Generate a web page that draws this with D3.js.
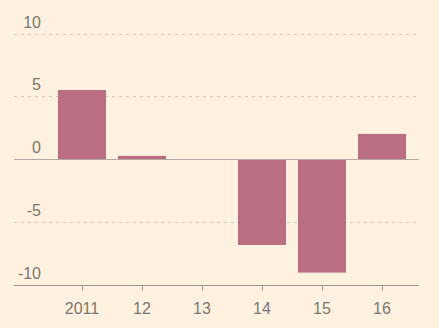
<!DOCTYPE html>
<html>
<head>
<meta charset="utf-8">
<script src="https://cdn.jsdelivr.net/npm/d3@7"></script>
<style>
  body { margin: 0; background: #fff1e0; }
  svg { display: block; }
  text { font-family: "Liberation Sans", Arial, sans-serif; fill: #7d7570; }
</style>
</head>
<body>
<div id="chart"></div>
<script>
var years = ['2011', '12', '13', '14', '15', '16'];
var values = [5.5, 0.25, -0.05, -6.85, -9.05, 2.0];
var yTicks = [-10, -5, 0, 5, 10];

var width = 439, height = 328;
var left = 14, right = 419;

var svg = d3.select("#chart")
    .append("svg")
        .attr("width", width)
        .attr("height", height);

// Scales
var x = d3.scaleBand()
    .domain(years)
    .range([52, 412])
    .paddingInner(0.2)
    .paddingOuter(0.1);

var y = d3.scaleLinear()
    .domain([-10, 10])
    .range([284.5, 33.5]);

// Grid lines
svg.selectAll(".grid")
    .data(yTicks.filter(function(d){ return d !== 0 && d !== -10; }))
    .enter()
    .append("line")
        .attr("x1", left)
        .attr("x2", right)
        .attr("y1", function(d){ return Math.round(y(d)) + 0.5; })
        .attr("y2", function(d){ return Math.round(y(d)) + 0.5; })
        .attr("stroke", "#d3c8bd")
        .attr("stroke-dasharray", "3,4");

// Y labels
svg.selectAll(".ylab")
    .data(yTicks)
    .enter()
    .append("text")
        .attr("x", 41)
        .attr("y", function(d){ return y(d) - 6; })
        .attr("text-anchor", "end")
        .attr("font-size", "16px")
        .text(function(d){ return d; });

// Bars
svg.selectAll("rect")
    .data(values)
    .enter()
    .append("rect")
        .attr("x", function(d, i){ return x(years[i]); })
        .attr("width", x.bandwidth())
        .attr("y", function(d){ return y(Math.max(0, d)); })
        .attr("height", function(d){ return Math.max(1, Math.abs(y(d) - y(0))); })
        .attr("fill", "#bb6d82");

// Zero line
svg.append("line")
    .attr("x1", left)
    .attr("x2", right)
    .attr("y1", Math.round(y(0)) + 0.5)
    .attr("y2", Math.round(y(0)) + 0.5)
    .attr("stroke", "#b3aaa1")
    .attr("stroke-width", 1.2);

// X axis
var xAxis = svg.append("g")
    .attr("transform", "translate(0," + (Math.round(y(-10)) + 0.5) + ")");

xAxis.append("line")
    .attr("x1", left)
    .attr("x2", right)
    .attr("stroke", "#9e9791");

xAxis.selectAll(".tick")
    .data(years)
    .enter()
    .append("line")
        .attr("x1", function(d){ return Math.round(x(d) + x.bandwidth() / 2) + 0.5; })
        .attr("x2", function(d){ return Math.round(x(d) + x.bandwidth() / 2) + 0.5; })
        .attr("y1", 0)
        .attr("y2", 5)
        .attr("stroke", "#9e9791");

xAxis.selectAll(".xlab")
    .data(years)
    .enter()
    .append("text")
        .attr("x", function(d){ return x(d) + x.bandwidth() / 2; })
        .attr("y", 28)
        .attr("text-anchor", "middle")
        .attr("font-size", "16px")
        .text(function(d){ return d; });
</script>
</body>
</html>
